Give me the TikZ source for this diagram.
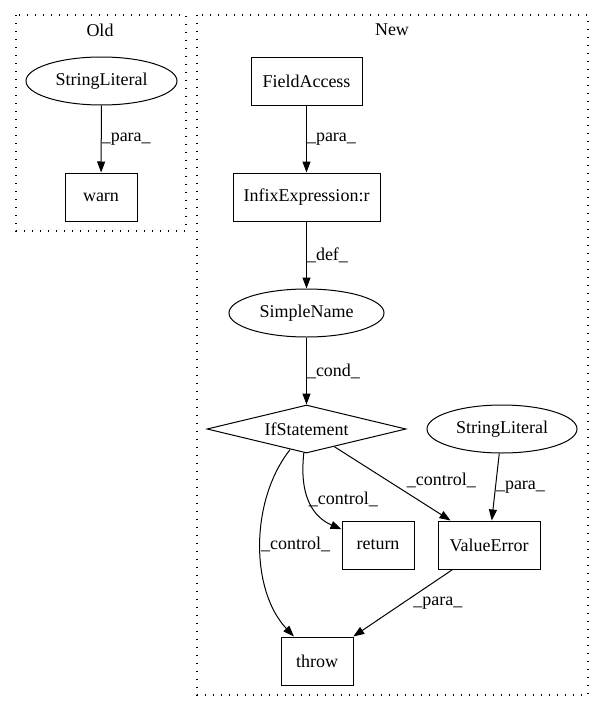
\documentclass[tikz,border=0pt]{standalone}
\usepackage{fontspec}
\setmainfont{Liberation Serif}
\usetikzlibrary{shapes.geometric, arrows.meta}

\begin{document}
\begin{tikzpicture}[x=1pt, y=-1pt, >={Triangle[length=11pt, width=8pt]}, line width=1pt,
    font=\fontsize{18}{21}\selectfont,
    box/.style={draw, rectangle, inner sep=0pt, minimum height=48pt},
    oval/.style={draw, ellipse, inner sep=0pt, minimum height=48pt},
    decision/.style={draw, diamond, aspect=4.15, inner sep=0pt, minimum width=199pt, minimum height=48pt},
    lbl/.style={anchor=west, inner sep=0pt},
    cluster/.style={line width=1.2pt, dash pattern=on 1.3pt off 6.7pt}]
    \useasboundingbox (0,0) rectangle (604,712);

    % Old
    \draw[cluster] (16,15) rectangle (186,231);
    \node (oldtitle) at (100,30) {Old};
    \node[oval, minimum width=151pt] (strold) at (101.5,81) {StringLiteral};
    \node[box, minimum width=72pt] (warn) at (101,197) {warn};
    \draw[->] (strold) -- node[lbl] {\_para\_} (warn);

    % New
    \draw[cluster] (197,15) rectangle (588,695);
    \node (newtitle) at (392,30) {New};
    \node[box, minimum width=111pt] (field) at (306.5,81) {FieldAccess};
    \node[box, minimum width=147pt] (infix) at (306.5,197) {InfixExpression:r};
    \node[oval, minimum width=155pt] (simple) at (306.5,313) {SimpleName};
    \node[decision] (ifst) at (306.5,429) {IfStatement};
    \node[oval, minimum width=150pt] (strnew) at (502,429) {StringLiteral};
    \node[box, minimum width=72pt] (ret) at (378,545) {return};
    \node[box, minimum width=102pt] (valerr) at (489,545) {ValueError};
    \node[box, minimum width=72pt] (throw) at (317,661) {throw};

    \draw[->] (field) -- node[lbl] {\_para\_} (infix);
    \draw[->] (infix) -- node[lbl] {\_def\_} (simple);
    \draw[->] (simple) -- node[lbl] {\_cond\_} (ifst);
    \draw[->] (ifst) .. controls (250,500) and (250,590) .. node[lbl] {\_control\_} (throw);
    \draw[->] (ifst) .. controls (298,505) and (320,520) .. node[lbl, pos=0.4] {\_control\_} (ret);
    \draw[->] (ifst) -- node[lbl, xshift=14pt, yshift=3pt] {\_control\_} (valerr);
    \draw[->] (strnew) -- node[lbl] {\_para\_} (valerr);
    \draw[->] (valerr) -- node[lbl, xshift=10pt] {\_para\_} (throw);
\end{tikzpicture}
\end{document}
